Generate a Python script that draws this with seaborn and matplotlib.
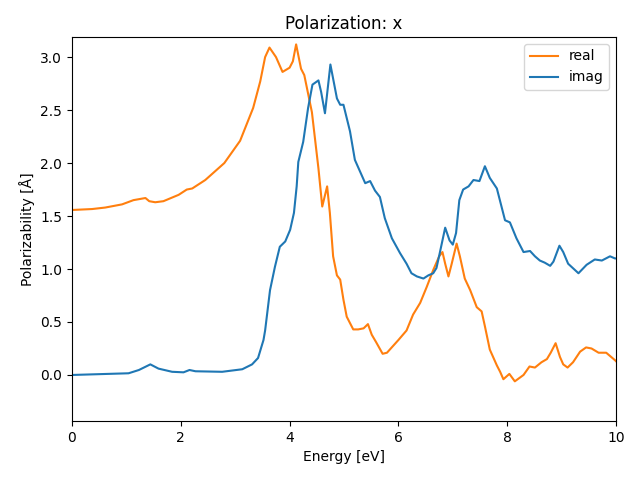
import matplotlib
matplotlib.use("Agg")
import matplotlib.pyplot as plt
import seaborn as sns
import pandas as pd

energy_real = [0.0, 0.37, 0.61, 0.92, 1.13, 1.35, 1.42, 1.53, 1.68, 1.96, 2.11, 2.21, 2.45,
               2.8, 3.09, 3.33, 3.46, 3.55, 3.63, 3.75, 3.87, 4.0, 4.06, 4.12, 4.21, 4.27,
               4.41, 4.53, 4.6, 4.69, 4.74, 4.80, 4.87, 4.93, 4.99, 5.05, 5.17, 5.26, 5.36,
               5.44, 5.51, 5.59, 5.71, 5.79, 6.00, 6.15, 6.27, 6.40, 6.52, 6.64, 6.75, 6.81,
               6.86, 6.92, 6.98, 7.07, 7.13, 7.22, 7.32, 7.44, 7.53, 7.59, 7.68, 7.81, 7.87,
               7.93, 8.04, 8.14, 8.30, 8.41, 8.51, 8.63, 8.73, 8.80, 8.89, 8.97, 9.03, 9.11,
               9.21, 9.34, 9.45, 9.55, 9.68, 9.82, 9.98, 10.0]
real = [1.557, 1.566, 1.58, 1.61, 1.65, 1.67, 1.64, 1.63, 1.64, 1.70, 1.75, 1.76, 1.84,
        2.0, 2.21, 2.52, 2.77, 3.0, 3.09, 3.0, 2.86, 2.90, 2.96, 3.12, 2.89, 2.83,
        2.48, 1.95, 1.59, 1.78, 1.53, 1.12, 0.94, 0.90, 0.71, 0.55, 0.43, 0.43, 0.44,
        0.48, 0.38, 0.31, 0.20, 0.21, 0.33, 0.42, 0.57, 0.68, 0.83, 0.99, 1.12, 1.16,
        1.05, 0.93, 1.05, 1.24, 1.12, 0.91, 0.80, 0.64, 0.60, 0.46, 0.24, 0.09, 0.03,
        -0.04, 0.01, -0.06, 0.0, 0.08, 0.07, 0.12, 0.15, 0.21, 0.30, 0.17, 0.10, 0.07,
        0.12, 0.22, 0.26, 0.25, 0.21, 0.21, 0.14, 0.13]

energy_imag = [0.0, 1.04, 1.23, 1.44, 1.59, 1.84, 2.05, 2.16, 2.27, 2.76, 3.13, 3.31, 3.42,
               3.52, 3.55, 3.64, 3.73, 3.82, 3.92, 4.01, 4.08, 4.13, 4.16, 4.25, 4.34, 4.42,
               4.53, 4.58, 4.65, 4.75, 4.87, 4.93, 4.99, 5.11, 5.20, 5.39, 5.48, 5.57, 5.66,
               5.75, 5.88, 6.03, 6.15, 6.24, 6.34, 6.46, 6.55, 6.64, 6.70, 6.76, 6.86, 6.94,
               7.0, 7.06, 7.12, 7.19, 7.29, 7.38, 7.49, 7.59, 7.68, 7.81, 7.96, 8.05, 8.17,
               8.30, 8.42, 8.51, 8.60, 8.69, 8.79, 8.85, 8.96, 9.03, 9.12, 9.31, 9.46, 9.61,
               9.74, 9.89, 9.98, 10.0]
imag = [0.0, 0.016, 0.047, 0.10, 0.06, 0.03, 0.025, 0.047, 0.035, 0.03, 0.054, 0.10, 0.16,
        0.33, 0.42, 0.80, 1.02, 1.21, 1.26, 1.37, 1.53, 1.78, 2.01, 2.20, 2.52, 2.74,
        2.78, 2.67, 2.47, 2.93, 2.61, 2.55, 2.55, 2.30, 2.03, 1.81, 1.83, 1.74, 1.68,
        1.48, 1.29, 1.15, 1.05, 0.96, 0.93, 0.91, 0.94, 0.96, 1.01, 1.15, 1.39, 1.27,
        1.23, 1.34, 1.65, 1.75, 1.78, 1.84, 1.83, 1.97, 1.86, 1.76, 1.46, 1.44, 1.29,
        1.16, 1.17, 1.12, 1.08, 1.06, 1.03, 1.07, 1.22, 1.16, 1.05, 0.96, 1.04, 1.09,
        1.08, 1.12, 1.10, 1.10]

df_real = pd.DataFrame({"energy": energy_real, "value": real})
df_imag = pd.DataFrame({"energy": energy_imag, "value": imag})

fig, ax = plt.subplots(figsize=(6.4, 4.8), dpi=100)
sns.lineplot(data=df_real, x="energy", y="value", ax=ax, color="#ff7f0e",
             estimator=None, label="real", linewidth=1.5)
sns.lineplot(data=df_imag, x="energy", y="value", ax=ax, color="#1f77b4",
             estimator=None, label="imag", linewidth=1.5)
for line in ax.get_lines():
    line.set_solid_joinstyle("round")

ax.set_xlim(0, 10)
ax.set_ylim(-0.434, 3.19)
ax.set_title("Polarization: x")
ax.set_xlabel("Energy [eV]")
ax.set_ylabel("Polarizability [Å]")
ax.legend(loc="upper right")
fig.subplots_adjust(left=0.1125, right=0.9625, top=0.923, bottom=0.123)
fig.savefig("out.png", dpi=100)
